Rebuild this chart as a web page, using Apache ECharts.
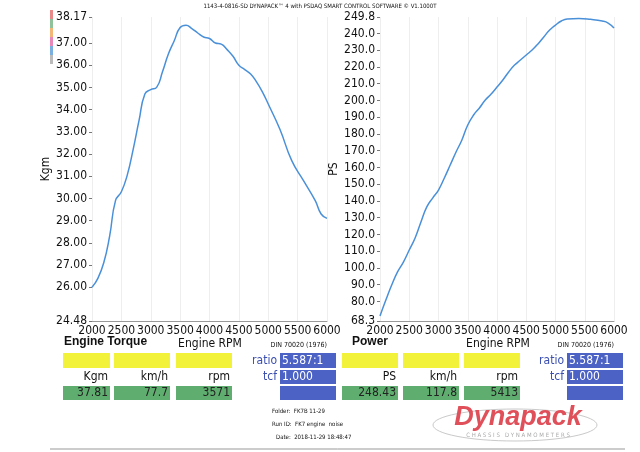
<!DOCTYPE html>
<html lang="en">
<head>
    <meta charset="UTF-8">
    <title>Dynapack</title>
    <script src="https://cdn.jsdelivr.net/npm/echarts@6/dist/echarts.min.js"></script>
    <style>body{margin:0;background:#fff}#main{width:640px;height:452px}</style>
</head>
<body>
<div id="main"></div>
<script>
    var rpmTorque = [2000, 2100, 2200, 2300, 2400, 2500, 2600, 2700, 2800, 2900, 3000, 3100, 3200, 3300, 3400, 3500, 3600, 3700, 3800, 3900, 4000, 4100, 4200, 4300, 4400, 4500, 4600, 4700, 4800, 4900, 5000, 5200, 5400, 5600, 5800, 5900, 6000];
    var torque = [26.0, 26.4, 27.1, 28.3, 29.9, 30.3, 31.05, 32.2, 33.5, 34.7, 34.9, 35.0, 35.7, 36.5, 37.1, 37.7, 37.8, 37.65, 37.45, 37.27, 37.2, 37.0, 36.95, 36.7, 36.4, 36.0, 35.8, 35.6, 35.25, 34.8, 34.25, 33.1, 31.7, 30.8, 29.9, 29.3, 29.1];
    var rpmPower = [2000, 2100, 2200, 2300, 2400, 2500, 2600, 2700, 2800, 2900, 3000, 3100, 3200, 3300, 3400, 3500, 3600, 3700, 3800, 3900, 4000, 4100, 4200, 4300, 4400, 4500, 4600, 4700, 4800, 4900, 5000, 5100, 5200, 5400, 5600, 5800, 5900, 6000];
    var power = [71.3, 80.8, 89.8, 97.6, 103.5, 110.7, 117.9, 127.4, 136.4, 141.7, 146.5, 153.7, 161.4, 169.2, 176.4, 185.3, 191.3, 195.5, 200.2, 203.8, 208, 212.2, 217, 221.1, 224.1, 227.1, 230.1, 233.7, 237.9, 242, 245, 247.4, 248.6, 248.9, 248.4, 247.4, 246.2, 243.2];
    var torqueTicks = [24.48, 26, 27, 28, 29, 30, 31, 32, 33, 34, 35, 36, 37, 38.17];
    var powerTicks = [68.3, 80, 90, 100, 110, 120, 130, 140, 150, 160, 170, 180, 190, 200, 210, 220, 230, 240, 249.8];

    var chart = echarts.init(document.getElementById('main'));
    var lineColor = '#4a90d9';
    var narrow = '"DejaVu Sans Condensed", "Liberation Sans", sans-serif';

    function xAx(idx) {
        return {
            type: 'value', gridIndex: idx, min: 2000, max: 6000, interval: 500,
            axisLine: {lineStyle: {color: '#999'}}, axisTick: {show: false},
            axisLabel: {color: '#111', fontSize: 12, fontFamily: narrow, margin: 4,
                showMinLabel: true, showMaxLabel: true, hideOverlap: false,
                formatter: function (v) { return String(v); }},
            splitLine: {lineStyle: {color: '#eee'}}
        };
    }
    function yAx(idx, ticks, name, digits) {
        return {
            type: 'value', gridIndex: idx, min: ticks[0], max: ticks[ticks.length - 1],
            name: name, nameLocation: 'middle', nameGap: 33, nameRotate: 90,
            nameTextStyle: {color: '#111', fontSize: 12, fontFamily: narrow},
            axisLine: {show: false},
            axisTick: {show: true, customValues: ticks, length: 3, lineStyle: {color: '#777'}},
            axisLabel: {customValues: ticks, color: '#111', fontSize: 12, fontFamily: narrow, margin: 5,
                formatter: function (v) { return v.toFixed(digits); }},
            splitLine: {show: false}
        };
    }

    var boxes = [];
    function rect(x, y, w, h, c) {
        boxes.push({type: 'rect', shape: {x: x, y: y, width: w, height: h}, style: {fill: c}});
    }
    function txt(x, y, t, opt) {
        var s = Object.assign({text: t, fill: '#111', fontSize: 12, fontFamily: narrow, textVerticalAlign: 'middle'}, opt || {});
        boxes.push({type: 'text', x: x, y: y, style: s});
    }
    var yellow = '#f2f23a', green = '#5fae6f', blue = '#4c62c4';
    var leftCols = [[63, 110], [114, 170], [176, 232]];
    var rightCols = [[342, 398], [403, 459], [464, 520]];
    var leftUnits = ['Kgm', 'km/h', 'rpm'], rightUnits = ['PS', 'km/h', 'rpm'];
    var leftVals = ['37.81', '77.7', '3571'], rightVals = ['248.43', '117.8', '5413'];
    [[leftCols, leftUnits, leftVals], [rightCols, rightUnits, rightVals]].forEach(function (g) {
        g[0].forEach(function (c, i) {
            rect(c[0], 353, c[1] - c[0], 15, yellow);
            rect(c[0], 386, c[1] - c[0], 14, green);
            txt(c[1] - 2, 377, g[1][i], {align: 'right', fontSize: 12});
            txt(c[1] - 2, 393, g[2][i], {align: 'right', fill: '#222'});
        });
    });
    [[280, 258], [567, 543]].forEach(function (b) {
        rect(b[0], 353, 56, 15, blue);
        rect(b[0], 370, 56, 14, blue);
        rect(b[0], 386, 56, 14, blue);
        txt(b[0] - 3, 360.5, 'ratio', {align: 'right', fill: '#3a4fb0', fontSize: 12});
        txt(b[0] - 3, 377, 'tcf', {align: 'right', fill: '#3a4fb0', fontSize: 12});
        txt(b[0] + 2, 360.5, '5.587:1', {fill: '#fff', fontSize: 12});
        txt(b[0] + 2, 377, '1.000', {fill: '#fff', fontSize: 12});
    });
    txt(64, 342, 'Engine Torque', {fontWeight: 'bold', fontSize: 12, fontFamily: 'Liberation Sans'});
    txt(352, 342, 'Power', {fontWeight: 'bold', fontSize: 12, fontFamily: 'Liberation Sans'});
    txt(210, 344, 'Engine RPM', {align: 'center', fontSize: 12});
    txt(498, 344, 'Engine RPM', {align: 'center', fontSize: 12});
    txt(327, 345, 'DIN 70020 (1976)', {align: 'right', fontSize: 7});
    txt(614, 345, 'DIN 70020 (1976)', {align: 'right', fontSize: 7});
    txt(272, 411, 'Folder:  FK7B 11-29', {fontSize: 6});
    txt(272, 424, 'Run ID:  FK7 engine  noise', {fontSize: 6});
    txt(276, 437, 'Date:  2018-11-29 18:48:47', {fontSize: 6});
    txt(320, 6, '1143-4-0816-SD DYNAPACK™ 4 with PSDAQ SMART CONTROL SOFTWARE © V1.1000T', {align: 'center', fontSize: 6});
    boxes.push({type: 'ellipse', shape: {cx: 515, cy: 425, rx: 82, ry: 16}, style: {fill: 'none', stroke: '#bbb', lineWidth: 0.8}});
    txt(518, 418, 'Dynapack', {align: 'center', fill: '#e0505a', fontSize: 27, fontWeight: 'bold', fontStyle: 'italic', fontFamily: 'Liberation Sans'});
    txt(518, 435, 'C H A S S I S   D Y N A M O M E T E R S', {align: 'center', fill: '#aaa', fontSize: 6});
    boxes.push({type: 'line', shape: {x1: 50, y1: 449, x2: 625, y2: 449}, style: {stroke: '#999', lineWidth: 1}});
    ['#e88a8a', '#8fc29a', '#f3b877', '#e889b9', '#7ab0e0', '#bbbbbb'].forEach(function (c, i) {
        rect(50, 10 + i * 9, 3, 9, c);
    });

    var option = {
        animation: false,
        grid: [
            {left: 92, right: 313, top: 17, bottom: 131},
            {left: 380, right: 26, top: 17, bottom: 131}
        ],
        xAxis: [xAx(0), xAx(1)],
        yAxis: [yAx(0, torqueTicks, 'Kgm', 2), yAx(1, powerTicks, 'PS', 1)],
        series: [
            {type: 'line', xAxisIndex: 0, yAxisIndex: 0, smooth: true, showSymbol: false,
                lineStyle: {color: lineColor, width: 1.5},
                data: rpmTorque.map(function (r, i) { return [r, torque[i]]; })},
            {type: 'line', xAxisIndex: 1, yAxisIndex: 1, smooth: true, showSymbol: false,
                lineStyle: {color: lineColor, width: 1.5},
                data: rpmPower.map(function (r, i) { return [r, power[i]]; })}
        ],
        graphic: boxes
    };
    chart.setOption(option);
</script>
</body>
</html>
